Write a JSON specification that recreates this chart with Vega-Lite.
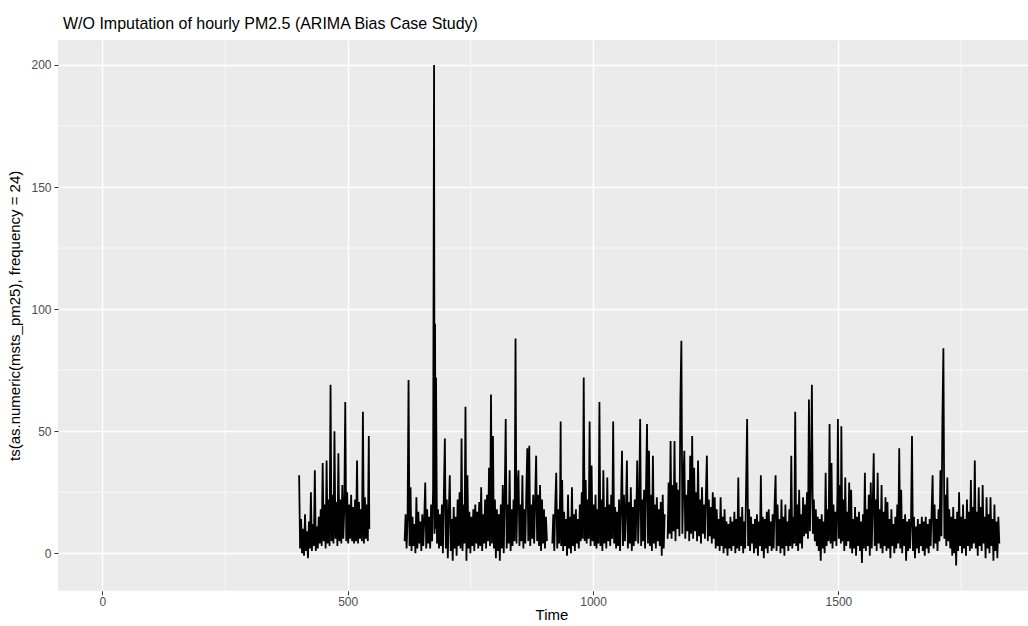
{
"$schema": "https://vega.github.io/schema/vega-lite/v6.json",
"autosize": {"type": "none"},
"padding": {"left": 58, "top": 40, "right": 0, "bottom": 35},
"width": 970,
"height": 550.7,
"background": "white",
"title": {"text": "W/O Imputation of hourly PM2.5 (ARIMA Bias Case Study)", "anchor": "start", "frame": "group", "dx": 5, "offset": 8, "fontSize": 16, "font": "Liberation Sans", "fontWeight": "normal", "color": "#000000"},
"config": {
  "view": {"fill": "#EBEBEB", "stroke": null},
  "axis": {"labelFont": "Liberation Sans", "titleFont": "Liberation Sans", "labelFontSize": 12, "labelColor": "#4D4D4D", "titleFontSize": 15, "titleFontWeight": "normal", "titleColor": "#000000", "domain": false, "tickColor": "#333333", "tickSize": 4, "tickWidth": 1, "grid": true, "gridColor": "#FFFFFF", "gridWidth": 1.4, "labelPadding": 3}
},
"datasets": {
"minx": [{"t": 250}, {"t": 750}, {"t": 1250}, {"t": 1750}],
"miny": [{"v": 25}, {"v": 75}, {"v": 125}, {"v": 175}],
"pm": [
{"t":401,"v":32,"s":1},{"t":403,"v":2,"s":1},{"t":405,"v":14,"s":1},{"t":407,"v":0,"s":1},{"t":409,"v":10,"s":1},{"t":411,"v":-1,"s":1},{"t":413,"v":16,"s":1},{"t":415,"v":1,"s":1},{"t":417,"v":9,"s":1},{"t":419,"v":-2,"s":1},{"t":421,"v":13,"s":1},{"t":423,"v":2,"s":1},{"t":425,"v":25,"s":1},{"t":427,"v":1,"s":1},{"t":429,"v":12,"s":1},{"t":431,"v":3,"s":1},{"t":433,"v":34,"s":1},{"t":435,"v":1,"s":1},{"t":437,"v":11,"s":1},{"t":439,"v":2,"s":1},{"t":441,"v":15,"s":1},{"t":443,"v":4,"s":1},{"t":445,"v":18,"s":1},{"t":447,"v":3,"s":1},{"t":449,"v":37,"s":1},{"t":451,"v":5,"s":1},{"t":453,"v":20,"s":1},{"t":455,"v":2,"s":1},{"t":457,"v":38,"s":1},{"t":459,"v":4,"s":1},{"t":461,"v":22,"s":1},{"t":463,"v":3,"s":1},{"t":465,"v":69,"s":1},{"t":467,"v":5,"s":1},{"t":469,"v":24,"s":1},{"t":471,"v":4,"s":1},{"t":473,"v":50,"s":1},{"t":475,"v":6,"s":1},{"t":477,"v":21,"s":1},{"t":479,"v":3,"s":1},{"t":481,"v":41,"s":1},{"t":483,"v":5,"s":1},{"t":485,"v":22,"s":1},{"t":487,"v":4,"s":1},{"t":489,"v":28,"s":1},{"t":491,"v":6,"s":1},{"t":493,"v":18,"s":1},{"t":495,"v":62,"s":1},{"t":497,"v":5,"s":1},{"t":499,"v":25,"s":1},{"t":501,"v":4,"s":1},{"t":503,"v":20,"s":1},{"t":505,"v":6,"s":1},{"t":507,"v":24,"s":1},{"t":509,"v":5,"s":1},{"t":511,"v":19,"s":1},{"t":513,"v":4,"s":1},{"t":515,"v":22,"s":1},{"t":517,"v":5,"s":1},{"t":519,"v":38,"s":1},{"t":521,"v":4,"s":1},{"t":523,"v":21,"s":1},{"t":525,"v":6,"s":1},{"t":527,"v":18,"s":1},{"t":529,"v":5,"s":1},{"t":531,"v":58,"s":1},{"t":533,"v":4,"s":1},{"t":535,"v":23,"s":1},{"t":537,"v":6,"s":1},{"t":539,"v":20,"s":1},{"t":541,"v":5,"s":1},{"t":543,"v":48,"s":1},{"t":544,"v":10,"s":1},
{"t":616,"v":5,"s":2},{"t":618,"v":16,"s":2},{"t":620,"v":2,"s":2},{"t":622,"v":14,"s":2},{"t":624,"v":71,"s":2},{"t":626,"v":3,"s":2},{"t":628,"v":27,"s":2},{"t":630,"v":1,"s":2},{"t":632,"v":15,"s":2},{"t":634,"v":3,"s":2},{"t":636,"v":12,"s":2},{"t":638,"v":0,"s":2},{"t":640,"v":23,"s":2},{"t":642,"v":2,"s":2},{"t":644,"v":17,"s":2},{"t":646,"v":4,"s":2},{"t":648,"v":13,"s":2},{"t":650,"v":1,"s":2},{"t":652,"v":16,"s":2},{"t":654,"v":3,"s":2},{"t":656,"v":14,"s":2},{"t":658,"v":29,"s":2},{"t":660,"v":2,"s":2},{"t":662,"v":18,"s":2},{"t":664,"v":4,"s":2},{"t":666,"v":15,"s":2},{"t":668,"v":2,"s":2},{"t":670,"v":20,"s":2},{"t":672,"v":5,"s":2},{"t":674,"v":26,"s":2},{"t":676,"v":200,"s":2},{"t":677,"v":8,"s":2},{"t":678,"v":94,"s":2},{"t":679,"v":10,"s":2},{"t":680,"v":72,"s":2},{"t":682,"v":4,"s":2},{"t":684,"v":18,"s":2},{"t":686,"v":2,"s":2},{"t":688,"v":16,"s":2},{"t":690,"v":3,"s":2},{"t":692,"v":20,"s":2},{"t":694,"v":0,"s":2},{"t":696,"v":25,"s":2},{"t":698,"v":47,"s":2},{"t":700,"v":2,"s":2},{"t":702,"v":22,"s":2},{"t":704,"v":-2,"s":2},{"t":706,"v":17,"s":2},{"t":708,"v":32,"s":2},{"t":710,"v":1,"s":2},{"t":712,"v":14,"s":2},{"t":714,"v":-3,"s":2},{"t":716,"v":19,"s":2},{"t":718,"v":2,"s":2},{"t":720,"v":15,"s":2},{"t":722,"v":-1,"s":2},{"t":724,"v":22,"s":2},{"t":726,"v":3,"s":2},{"t":728,"v":25,"s":2},{"t":730,"v":2,"s":2},{"t":732,"v":47,"s":2},{"t":734,"v":1,"s":2},{"t":736,"v":20,"s":2},{"t":738,"v":4,"s":2},{"t":740,"v":60,"s":2},{"t":742,"v":-3,"s":2},{"t":744,"v":32,"s":2},{"t":746,"v":2,"s":2},{"t":748,"v":17,"s":2},{"t":750,"v":0,"s":2},{"t":752,"v":15,"s":2},{"t":754,"v":3,"s":2},{"t":756,"v":18,"s":2},{"t":758,"v":1,"s":2},{"t":760,"v":20,"s":2},{"t":762,"v":4,"s":2},{"t":764,"v":17,"s":2},{"t":766,"v":2,"s":2},{"t":768,"v":21,"s":2},{"t":770,"v":3,"s":2},{"t":772,"v":27,"s":2},{"t":774,"v":1,"s":2},{"t":776,"v":16,"s":2},{"t":778,"v":4,"s":2},{"t":780,"v":22,"s":2},{"t":782,"v":2,"s":2},{"t":784,"v":24,"s":2},{"t":786,"v":5,"s":2},{"t":788,"v":35,"s":2},{"t":790,"v":3,"s":2},{"t":792,"v":65,"s":2},{"t":794,"v":4,"s":2},{"t":796,"v":48,"s":2},{"t":798,"v":2,"s":2},{"t":800,"v":22,"s":2},{"t":802,"v":-2,"s":2},{"t":804,"v":18,"s":2},{"t":806,"v":1,"s":2},{"t":808,"v":16,"s":2},{"t":810,"v":-3,"s":2},{"t":812,"v":20,"s":2},{"t":814,"v":2,"s":2},{"t":816,"v":28,"s":2},{"t":818,"v":0,"s":2},{"t":820,"v":24,"s":2},{"t":822,"v":55,"s":2},{"t":824,"v":2,"s":2},{"t":826,"v":20,"s":2},{"t":828,"v":4,"s":2},{"t":830,"v":34,"s":2},{"t":832,"v":1,"s":2},{"t":834,"v":18,"s":2},{"t":836,"v":3,"s":2},{"t":838,"v":22,"s":2},{"t":840,"v":5,"s":2},{"t":842,"v":88,"s":2},{"t":844,"v":4,"s":2},{"t":846,"v":26,"s":2},{"t":848,"v":34,"s":2},{"t":850,"v":3,"s":2},{"t":852,"v":20,"s":2},{"t":854,"v":5,"s":2},{"t":856,"v":32,"s":2},{"t":858,"v":2,"s":2},{"t":860,"v":18,"s":2},{"t":862,"v":4,"s":2},{"t":864,"v":25,"s":2},{"t":866,"v":43,"s":2},{"t":868,"v":5,"s":2},{"t":870,"v":44,"s":2},{"t":872,"v":3,"s":2},{"t":874,"v":20,"s":2},{"t":876,"v":6,"s":2},{"t":878,"v":24,"s":2},{"t":880,"v":4,"s":2},{"t":882,"v":22,"s":2},{"t":884,"v":40,"s":2},{"t":886,"v":5,"s":2},{"t":888,"v":24,"s":2},{"t":890,"v":3,"s":2},{"t":892,"v":28,"s":2},{"t":894,"v":1,"s":2},{"t":896,"v":22,"s":2},{"t":898,"v":4,"s":2},{"t":900,"v":18,"s":2},{"t":902,"v":2,"s":2},{"t":904,"v":15,"s":2},{"t":906,"v":5,"s":2},
{"t":917,"v":4,"s":3},{"t":919,"v":16,"s":3},{"t":921,"v":1,"s":3},{"t":923,"v":20,"s":3},{"t":925,"v":33,"s":3},{"t":927,"v":2,"s":3},{"t":929,"v":18,"s":3},{"t":931,"v":4,"s":3},{"t":933,"v":26,"s":3},{"t":934,"v":54,"s":3},{"t":935,"v":3,"s":3},{"t":937,"v":30,"s":3},{"t":939,"v":1,"s":3},{"t":941,"v":17,"s":3},{"t":943,"v":3,"s":3},{"t":945,"v":14,"s":3},{"t":947,"v":-1,"s":3},{"t":949,"v":24,"s":3},{"t":951,"v":2,"s":3},{"t":953,"v":15,"s":3},{"t":955,"v":0,"s":3},{"t":957,"v":27,"s":3},{"t":959,"v":3,"s":3},{"t":961,"v":16,"s":3},{"t":963,"v":1,"s":3},{"t":965,"v":18,"s":3},{"t":967,"v":4,"s":3},{"t":969,"v":14,"s":3},{"t":971,"v":2,"s":3},{"t":973,"v":20,"s":3},{"t":975,"v":5,"s":3},{"t":977,"v":25,"s":3},{"t":979,"v":6,"s":3},{"t":981,"v":72,"s":3},{"t":983,"v":5,"s":3},{"t":985,"v":30,"s":3},{"t":987,"v":4,"s":3},{"t":989,"v":22,"s":3},{"t":991,"v":6,"s":3},{"t":993,"v":54,"s":3},{"t":995,"v":3,"s":3},{"t":997,"v":36,"s":3},{"t":999,"v":5,"s":3},{"t":1001,"v":20,"s":3},{"t":1003,"v":3,"s":3},{"t":1005,"v":24,"s":3},{"t":1007,"v":2,"s":3},{"t":1009,"v":18,"s":3},{"t":1011,"v":4,"s":3},{"t":1013,"v":62,"s":3},{"t":1015,"v":3,"s":3},{"t":1017,"v":22,"s":3},{"t":1019,"v":1,"s":3},{"t":1021,"v":34,"s":3},{"t":1023,"v":4,"s":3},{"t":1025,"v":19,"s":3},{"t":1027,"v":2,"s":3},{"t":1029,"v":31,"s":3},{"t":1031,"v":5,"s":3},{"t":1033,"v":20,"s":3},{"t":1035,"v":3,"s":3},{"t":1037,"v":24,"s":3},{"t":1039,"v":6,"s":3},{"t":1041,"v":54,"s":3},{"t":1043,"v":4,"s":3},{"t":1045,"v":19,"s":3},{"t":1047,"v":2,"s":3},{"t":1049,"v":17,"s":3},{"t":1051,"v":3,"s":3},{"t":1053,"v":22,"s":3},{"t":1055,"v":1,"s":3},{"t":1057,"v":20,"s":3},{"t":1059,"v":42,"s":3},{"t":1061,"v":3,"s":3},{"t":1063,"v":24,"s":3},{"t":1065,"v":5,"s":3},{"t":1067,"v":18,"s":3},{"t":1069,"v":38,"s":3},{"t":1071,"v":2,"s":3},{"t":1073,"v":21,"s":3},{"t":1075,"v":4,"s":3},{"t":1077,"v":27,"s":3},{"t":1079,"v":1,"s":3},{"t":1081,"v":19,"s":3},{"t":1083,"v":3,"s":3},{"t":1085,"v":22,"s":3},{"t":1087,"v":5,"s":3},{"t":1089,"v":25,"s":3},{"t":1090,"v":38,"s":3},{"t":1092,"v":4,"s":3},{"t":1094,"v":20,"s":3},{"t":1096,"v":55,"s":3},{"t":1098,"v":3,"s":3},{"t":1100,"v":22,"s":3},{"t":1102,"v":5,"s":3},{"t":1104,"v":26,"s":3},{"t":1106,"v":2,"s":3},{"t":1108,"v":28,"s":3},{"t":1110,"v":53,"s":3},{"t":1112,"v":4,"s":3},{"t":1114,"v":42,"s":3},{"t":1116,"v":3,"s":3},{"t":1118,"v":24,"s":3},{"t":1120,"v":1,"s":3},{"t":1122,"v":40,"s":3},{"t":1124,"v":4,"s":3},{"t":1126,"v":20,"s":3},{"t":1128,"v":2,"s":3},{"t":1130,"v":23,"s":3},{"t":1132,"v":5,"s":3},{"t":1134,"v":18,"s":3},{"t":1136,"v":3,"s":3},{"t":1138,"v":21,"s":3},{"t":1140,"v":-1,"s":3},{"t":1142,"v":24,"s":3},{"t":1144,"v":2,"s":3},{"t":1146,"v":16,"s":3},
{"t":1152,"v":6,"s":4},{"t":1154,"v":29,"s":4},{"t":1156,"v":8,"s":4},{"t":1158,"v":46,"s":4},{"t":1160,"v":6,"s":4},{"t":1162,"v":28,"s":4},{"t":1164,"v":9,"s":4},{"t":1166,"v":46,"s":4},{"t":1168,"v":5,"s":4},{"t":1170,"v":29,"s":4},{"t":1172,"v":10,"s":4},{"t":1174,"v":26,"s":4},{"t":1176,"v":7,"s":4},{"t":1178,"v":63,"s":4},{"t":1180,"v":87,"s":4},{"t":1182,"v":8,"s":4},{"t":1184,"v":30,"s":4},{"t":1186,"v":42,"s":4},{"t":1188,"v":6,"s":4},{"t":1190,"v":24,"s":4},{"t":1192,"v":9,"s":4},{"t":1194,"v":30,"s":4},{"t":1196,"v":5,"s":4},{"t":1198,"v":40,"s":4},{"t":1200,"v":8,"s":4},{"t":1202,"v":48,"s":4},{"t":1204,"v":6,"s":4},{"t":1206,"v":35,"s":4},{"t":1208,"v":9,"s":4},{"t":1210,"v":25,"s":4},{"t":1212,"v":5,"s":4},{"t":1214,"v":38,"s":4},{"t":1216,"v":7,"s":4},{"t":1218,"v":22,"s":4},{"t":1220,"v":4,"s":4},{"t":1222,"v":27,"s":4},{"t":1224,"v":8,"s":4},{"t":1226,"v":20,"s":4},{"t":1228,"v":6,"s":4},{"t":1230,"v":24,"s":4},{"t":1232,"v":40,"s":4},{"t":1234,"v":5,"s":4},{"t":1236,"v":22,"s":4},{"t":1238,"v":7,"s":4},{"t":1240,"v":19,"s":4},{"t":1242,"v":4,"s":4},{"t":1244,"v":25,"s":4},{"t":1246,"v":6,"s":4},{"t":1248,"v":23,"s":4},{"t":1250,"v":2,"s":4},{"t":1252,"v":18,"s":4},{"t":1254,"v":3,"s":4},{"t":1256,"v":14,"s":4},{"t":1258,"v":1,"s":4},{"t":1260,"v":23,"s":4},{"t":1262,"v":3,"s":4},{"t":1264,"v":15,"s":4},{"t":1266,"v":0,"s":4},{"t":1268,"v":18,"s":4},{"t":1270,"v":2,"s":4},{"t":1272,"v":13,"s":4},{"t":1274,"v":-1,"s":4},{"t":1276,"v":12,"s":4},{"t":1278,"v":2,"s":4},{"t":1280,"v":15,"s":4},{"t":1282,"v":1,"s":4},{"t":1284,"v":13,"s":4},{"t":1286,"v":3,"s":4},{"t":1288,"v":17,"s":4},{"t":1290,"v":0,"s":4},{"t":1292,"v":14,"s":4},{"t":1294,"v":2,"s":4},{"t":1296,"v":31,"s":4},{"t":1298,"v":1,"s":4},{"t":1300,"v":15,"s":4},{"t":1302,"v":3,"s":4},{"t":1304,"v":19,"s":4},{"t":1306,"v":0,"s":4},{"t":1308,"v":13,"s":4},{"t":1310,"v":2,"s":4},{"t":1312,"v":28,"s":4},{"t":1314,"v":55,"s":4},{"t":1316,"v":3,"s":4},{"t":1318,"v":18,"s":4},{"t":1320,"v":1,"s":4},{"t":1322,"v":15,"s":4},{"t":1324,"v":4,"s":4},{"t":1326,"v":12,"s":4},{"t":1328,"v":0,"s":4},{"t":1330,"v":14,"s":4},{"t":1332,"v":2,"s":4},{"t":1334,"v":16,"s":4},{"t":1336,"v":-1,"s":4},{"t":1338,"v":13,"s":4},{"t":1340,"v":3,"s":4},{"t":1342,"v":32,"s":4},{"t":1344,"v":1,"s":4},{"t":1346,"v":15,"s":4},{"t":1348,"v":-2,"s":4},{"t":1350,"v":14,"s":4},{"t":1352,"v":2,"s":4},{"t":1354,"v":17,"s":4},{"t":1356,"v":0,"s":4},{"t":1358,"v":18,"s":4},{"t":1360,"v":3,"s":4},{"t":1362,"v":13,"s":4},{"t":1364,"v":1,"s":4},{"t":1366,"v":16,"s":4},{"t":1368,"v":2,"s":4},{"t":1370,"v":20,"s":4},{"t":1372,"v":32,"s":4},{"t":1374,"v":1,"s":4},{"t":1376,"v":20,"s":4},{"t":1378,"v":3,"s":4},{"t":1380,"v":14,"s":4},{"t":1382,"v":0,"s":4},{"t":1384,"v":22,"s":4},{"t":1386,"v":2,"s":4},{"t":1388,"v":15,"s":4},{"t":1390,"v":-1,"s":4},{"t":1392,"v":20,"s":4},{"t":1394,"v":3,"s":4},{"t":1396,"v":13,"s":4},{"t":1398,"v":1,"s":4},{"t":1400,"v":18,"s":4},{"t":1402,"v":3,"s":4},{"t":1404,"v":40,"s":4},{"t":1406,"v":2,"s":4},{"t":1408,"v":15,"s":4},{"t":1410,"v":4,"s":4},{"t":1412,"v":58,"s":4},{"t":1414,"v":3,"s":4},{"t":1416,"v":20,"s":4},{"t":1418,"v":1,"s":4},{"t":1420,"v":26,"s":4},{"t":1422,"v":4,"s":4},{"t":1424,"v":16,"s":4},{"t":1426,"v":2,"s":4},{"t":1428,"v":23,"s":4},{"t":1430,"v":7,"s":4},{"t":1432,"v":20,"s":4},{"t":1434,"v":8,"s":4},{"t":1436,"v":25,"s":4},{"t":1438,"v":6,"s":4},{"t":1440,"v":63,"s":4},{"t":1442,"v":9,"s":4},{"t":1444,"v":30,"s":4},{"t":1446,"v":69,"s":4},{"t":1448,"v":8,"s":4},{"t":1450,"v":22,"s":4},{"t":1452,"v":5,"s":4},{"t":1454,"v":18,"s":4},{"t":1456,"v":3,"s":4},{"t":1458,"v":15,"s":4},{"t":1460,"v":1,"s":4},{"t":1462,"v":14,"s":4},{"t":1464,"v":-3,"s":4},{"t":1466,"v":16,"s":4},{"t":1468,"v":2,"s":4},{"t":1470,"v":13,"s":4},{"t":1472,"v":0,"s":4},{"t":1474,"v":33,"s":4},{"t":1476,"v":3,"s":4},{"t":1478,"v":18,"s":4},{"t":1480,"v":5,"s":4},{"t":1482,"v":53,"s":4},{"t":1484,"v":4,"s":4},{"t":1486,"v":37,"s":4},{"t":1488,"v":2,"s":4},{"t":1490,"v":20,"s":4},{"t":1492,"v":5,"s":4},{"t":1494,"v":17,"s":4},{"t":1496,"v":3,"s":4},{"t":1498,"v":24,"s":4},{"t":1499,"v":55,"s":4},{"t":1501,"v":6,"s":4},{"t":1503,"v":28,"s":4},{"t":1505,"v":4,"s":4},{"t":1506,"v":52,"s":4},{"t":1508,"v":5,"s":4},{"t":1510,"v":22,"s":4},{"t":1512,"v":1,"s":4},{"t":1514,"v":31,"s":4},{"t":1516,"v":3,"s":4},{"t":1518,"v":17,"s":4},{"t":1520,"v":5,"s":4},{"t":1522,"v":29,"s":4},{"t":1524,"v":2,"s":4},{"t":1526,"v":26,"s":4},{"t":1528,"v":0,"s":4},{"t":1530,"v":14,"s":4},{"t":1532,"v":2,"s":4},{"t":1534,"v":19,"s":4},{"t":1536,"v":-1,"s":4},{"t":1538,"v":15,"s":4},{"t":1540,"v":3,"s":4},{"t":1542,"v":17,"s":4},{"t":1544,"v":1,"s":4},{"t":1546,"v":13,"s":4},{"t":1548,"v":-4,"s":4},{"t":1550,"v":16,"s":4},{"t":1552,"v":2,"s":4},{"t":1554,"v":33,"s":4},{"t":1556,"v":1,"s":4},{"t":1558,"v":18,"s":4},{"t":1560,"v":3,"s":4},{"t":1562,"v":24,"s":4},{"t":1564,"v":-1,"s":4},{"t":1566,"v":29,"s":4},{"t":1568,"v":2,"s":4},{"t":1570,"v":20,"s":4},{"t":1572,"v":41,"s":4},{"t":1574,"v":3,"s":4},{"t":1576,"v":22,"s":4},{"t":1578,"v":1,"s":4},{"t":1580,"v":33,"s":4},{"t":1582,"v":4,"s":4},{"t":1584,"v":18,"s":4},{"t":1586,"v":2,"s":4},{"t":1588,"v":28,"s":4},{"t":1590,"v":0,"s":4},{"t":1592,"v":17,"s":4},{"t":1594,"v":3,"s":4},{"t":1596,"v":23,"s":4},{"t":1598,"v":1,"s":4},{"t":1600,"v":21,"s":4},{"t":1602,"v":2,"s":4},{"t":1604,"v":14,"s":4},{"t":1606,"v":-2,"s":4},{"t":1608,"v":18,"s":4},{"t":1610,"v":3,"s":4},{"t":1612,"v":12,"s":4},{"t":1614,"v":0,"s":4},{"t":1616,"v":15,"s":4},{"t":1618,"v":2,"s":4},{"t":1620,"v":20,"s":4},{"t":1622,"v":4,"s":4},{"t":1624,"v":43,"s":4},{"t":1626,"v":2,"s":4},{"t":1628,"v":26,"s":4},{"t":1630,"v":0,"s":4},{"t":1632,"v":14,"s":4},{"t":1634,"v":3,"s":4},{"t":1636,"v":16,"s":4},{"t":1638,"v":-3,"s":4},{"t":1640,"v":13,"s":4},{"t":1642,"v":1,"s":4},{"t":1644,"v":14,"s":4},{"t":1646,"v":2,"s":4},{"t":1648,"v":12,"s":4},{"t":1650,"v":48,"s":4},{"t":1652,"v":1,"s":4},{"t":1654,"v":15,"s":4},{"t":1656,"v":-2,"s":4},{"t":1658,"v":11,"s":4},{"t":1660,"v":2,"s":4},{"t":1662,"v":14,"s":4},{"t":1664,"v":0,"s":4},{"t":1666,"v":12,"s":4},{"t":1668,"v":3,"s":4},{"t":1670,"v":15,"s":4},{"t":1672,"v":1,"s":4},{"t":1674,"v":13,"s":4},{"t":1676,"v":-1,"s":4},{"t":1678,"v":15,"s":4},{"t":1680,"v":2,"s":4},{"t":1682,"v":12,"s":4},{"t":1684,"v":0,"s":4},{"t":1686,"v":14,"s":4},{"t":1688,"v":3,"s":4},{"t":1690,"v":17,"s":4},{"t":1692,"v":32,"s":4},{"t":1694,"v":2,"s":4},{"t":1696,"v":20,"s":4},{"t":1698,"v":4,"s":4},{"t":1700,"v":14,"s":4},{"t":1702,"v":1,"s":4},{"t":1704,"v":18,"s":4},{"t":1706,"v":5,"s":4},{"t":1708,"v":34,"s":4},{"t":1710,"v":7,"s":4},{"t":1712,"v":55,"s":4},{"t":1714,"v":84,"s":4},{"t":1716,"v":6,"s":4},{"t":1718,"v":24,"s":4},{"t":1720,"v":3,"s":4},{"t":1722,"v":31,"s":4},{"t":1724,"v":5,"s":4},{"t":1726,"v":18,"s":4},{"t":1728,"v":2,"s":4},{"t":1730,"v":15,"s":4},{"t":1732,"v":-1,"s":4},{"t":1734,"v":19,"s":4},{"t":1736,"v":0,"s":4},{"t":1738,"v":14,"s":4},{"t":1740,"v":-5,"s":4},{"t":1742,"v":17,"s":4},{"t":1744,"v":1,"s":4},{"t":1746,"v":25,"s":4},{"t":1748,"v":3,"s":4},{"t":1750,"v":15,"s":4},{"t":1752,"v":0,"s":4},{"t":1754,"v":20,"s":4},{"t":1756,"v":2,"s":4},{"t":1758,"v":14,"s":4},{"t":1760,"v":-1,"s":4},{"t":1762,"v":22,"s":4},{"t":1764,"v":3,"s":4},{"t":1766,"v":17,"s":4},{"t":1768,"v":1,"s":4},{"t":1770,"v":30,"s":4},{"t":1772,"v":2,"s":4},{"t":1774,"v":19,"s":4},{"t":1776,"v":4,"s":4},{"t":1778,"v":38,"s":4},{"t":1780,"v":2,"s":4},{"t":1782,"v":17,"s":4},{"t":1784,"v":-1,"s":4},{"t":1786,"v":27,"s":4},{"t":1788,"v":3,"s":4},{"t":1790,"v":19,"s":4},{"t":1792,"v":1,"s":4},{"t":1794,"v":28,"s":4},{"t":1796,"v":4,"s":4},{"t":1798,"v":15,"s":4},{"t":1800,"v":-2,"s":4},{"t":1802,"v":23,"s":4},{"t":1804,"v":2,"s":4},{"t":1806,"v":16,"s":4},{"t":1808,"v":0,"s":4},{"t":1810,"v":23,"s":4},{"t":1812,"v":3,"s":4},{"t":1814,"v":14,"s":4},{"t":1816,"v":-3,"s":4},{"t":1818,"v":20,"s":4},{"t":1820,"v":1,"s":4},{"t":1822,"v":13,"s":4},{"t":1824,"v":-2,"s":4},{"t":1826,"v":15,"s":4},{"t":1828,"v":4,"s":4}
]
},
"layer": [
  {
    "data": {"name": "minx"},
    "mark": {"type": "rule", "color": "#FFFFFF", "strokeWidth": 0.7},
    "encoding": {
      "x": {"field": "t", "type": "quantitative", "scale": {"domain": [-90.4, 1886.4], "nice": false, "zero": false}, "axis": {"values": [0, 500, 1000, 1500], "title": "Time", "titlePadding": 0, "labelPadding": 2, "titleX": 493.5, "format": "d"}}
    }
  },
  {
    "data": {"name": "miny"},
    "mark": {"type": "rule", "color": "#FFFFFF", "strokeWidth": 0.7},
    "encoding": {
      "y": {"field": "v", "type": "quantitative", "scale": {"domain": [-15.3, 210.2], "nice": false, "zero": false}, "axis": {"values": [0, 50, 100, 150, 200], "title": "ts(as.numeric(msts_pm25), frequency = 24)", "titlePadding": 8, "format": "d"}}
    }
  },
  {
    "data": {"name": "pm"},
    "mark": {"type": "line", "color": "#000000", "strokeWidth": 1.8, "clip": true},
    "encoding": {
      "x": {"field": "t", "type": "quantitative", "scale": {"domain": [-90.4, 1886.4], "nice": false, "zero": false}, "axis": {"values": [0, 500, 1000, 1500], "title": "Time", "titlePadding": 0, "labelPadding": 2, "titleX": 493.5, "format": "d"}},
      "y": {"field": "v", "type": "quantitative", "scale": {"domain": [-15.3, 210.2], "nice": false, "zero": false}, "axis": {"values": [0, 50, 100, 150, 200], "title": "ts(as.numeric(msts_pm25), frequency = 24)", "titlePadding": 8, "format": "d"}},
      "detail": {"field": "s", "type": "nominal"}
    }
  }
]
}
